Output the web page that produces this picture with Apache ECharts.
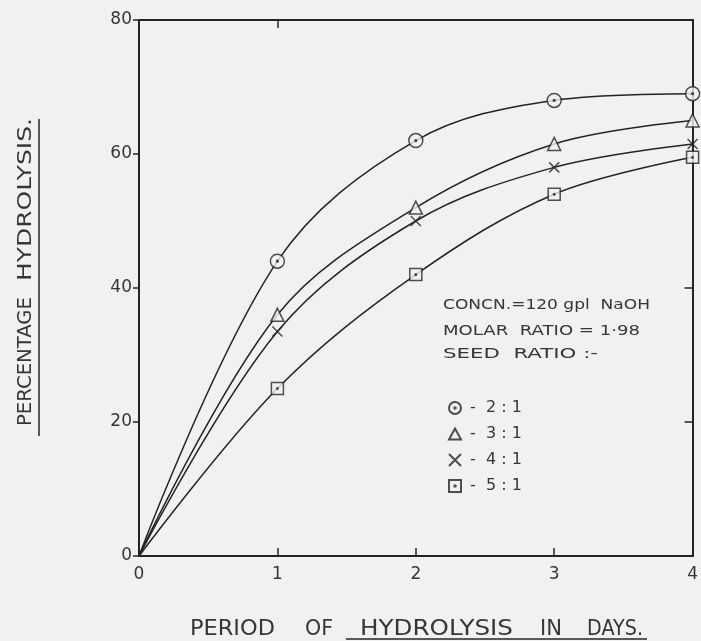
<!DOCTYPE html>
<html>
<head>
<meta charset="utf-8">
<script src="https://cdn.jsdelivr.net/npm/echarts@6/dist/echarts.min.js"></script>
<style>
  html, body { margin: 0; padding: 0; background: #f1f1ef; }
  #chart { width: 701px; height: 641px; }
</style>
</head>
<body>
<div id="chart"></div>
<script>
// Hydrolysis period (days) and percentage hydrolysis for each seed ratio
const days = [0, 1, 2, 3, 4];
const ratio21 = [0, 44, 62, 68, 69];
const ratio31 = [0, 36, 52, 61.5, 65];
const ratio41 = [0, 33.5, 50, 58, 61.5];
const ratio51 = [0, 25, 42, 54, 59.5];

const seriesNames = ['-  2 : 1', '-  3 : 1', '-  4 : 1', '-  5 : 1'];
const yTicks = [0, 20, 40, 60, 80];
const xTitleWords = ['PERIOD', 'OF', 'HYDROLYSIS', 'IN', 'DAYS.'];
const yTitleWords = ['PERCENTAGE', 'HYDROLYSIS.'];
const noteLines = ['CONCN.=120 gpl  NaOH', 'MOLAR  RATIO = 1·98', 'SEED  RATIO :-'];

const ink = '#242424';
const textInk = '#363636';
const paper = '#f1f1ef';
const FONT = '"DejaVu Sans"';

// Marker shapes: dotted circle, open triangle, cross, dotted square
const SYM_CIRCLE_DOT = 'path://M0,-10A10,10,0,1,1,0,10A10,10,0,1,1,0,-10ZM0,-1.3A1.3,1.3,0,1,1,0,1.3A1.3,1.3,0,1,1,0,-1.3Z';
const SYM_SQUARE_DOT = 'path://M-10,-10L10,-10L10,10L-10,10ZM0,-1.3A1.3,1.3,0,1,1,0,1.3A1.3,1.3,0,1,1,0,-1.3Z';
const SYM_TRIANGLE = 'path://M0,-10L10,8L-10,8Z';
const SYM_CROSS = 'path://M-10,-10L10,10M10,-10L-10,10';

const groups = [
  { vals: ratio21, sym: SYM_CIRCLE_DOT, size: 14 },
  { vals: ratio31, sym: SYM_TRIANGLE, size: 13 },
  { vals: ratio41, sym: SYM_CROSS, size: 10 },
  { vals: ratio51, sym: SYM_SQUARE_DOT, size: 12 }
];

const pairs = vals => days.map((d, i) => [d, vals[i]]);

const series = [];
groups.forEach((g, k) => {
  series.push({
    name: 'curve' + k,
    type: 'line',
    smooth: 0.35,
    showSymbol: false,
    data: pairs(g.vals),
    lineStyle: { color: ink, width: 1.5 },
    z: 2,
    silent: true
  });
});
groups.forEach((g, k) => {
  series.push({
    name: seriesNames[k],
    type: 'scatter',
    symbol: g.sym,
    symbolSize: g.size,
    data: pairs(g.vals).slice(1),
    itemStyle: {
      color: g.sym === SYM_CROSS ? 'rgba(0,0,0,0)' : paper,
      borderColor: ink,
      borderWidth: 1.5
    },
    z: 3
  });
});

// Stretch a word horizontally so it spans a given width (lettering is wide-set)
const measureCtx = document.createElement('canvas').getContext('2d');
function fittedText(word, size, width, props) {
  measureCtx.font = size + 'px ' + FONT;
  const w = measureCtx.measureText(word).width;
  return Object.assign({
    type: 'text',
    scaleX: width / w,
    style: {
      text: word, fill: textInk, font: size + 'px ' + FONT,
      textAlign: 'left', textVerticalAlign: 'middle'
    }
  }, props);
}

// x title: word start / end positions along the bottom
const xWordSpans = [[190, 275], [305, 333], [360, 513], [540, 562], [587, 643]];
// y title: word spans measured upward from the bottom
const yWordSpans = [[426, 297], [281, 118]];
// note block: left edge, right edge, centre line
const noteSpans = [[443, 650, 305], [443, 640, 331], [443, 598, 354]];

const graphics = [];
xTitleWords.forEach((w, i) => {
  const [a, b] = xWordSpans[i];
  graphics.push(fittedText(w, 22, b - a, { x: a, y: 629 }));
});
graphics.push({
  type: 'line', shape: { x1: 346, y1: 639, x2: 647, y2: 639 },
  style: { stroke: ink, lineWidth: 1.5 }
});
yTitleWords.forEach((w, i) => {
  const [a, b] = yWordSpans[i];
  graphics.push(fittedText(w, 19, a - b, { x: 26, y: a, rotation: Math.PI / 2 }));
});
graphics.push({
  type: 'line', shape: { x1: 39, y1: 119, x2: 39, y2: 436 },
  style: { stroke: ink, lineWidth: 1.5 }
});
noteLines.forEach((t, i) => {
  const [a, b, y] = noteSpans[i];
  graphics.push(fittedText(t, 14, b - a, { x: a, y: y }));
});

const chart = echarts.init(document.getElementById('chart'));
chart.setOption({
  backgroundColor: paper,
  animation: false,
  grid: { left: 139, right: 6, top: 20, bottom: 85 },
  xAxis: [
    {
      type: 'value', min: 0, max: 4, interval: 1, position: 'bottom',
      axisLine: { onZero: false, lineStyle: { color: ink, width: 2 } },
      axisTick: { inside: true, length: 8, lineStyle: { color: ink, width: 1.5 } },
      axisLabel: { color: textInk, fontSize: 17, margin: 10, fontFamily: 'DejaVu Sans' },
      splitLine: { show: false }
    },
    {
      type: 'value', min: 0, max: 4, interval: 1, position: 'top',
      axisLine: { show: true, onZero: false, lineStyle: { color: ink, width: 2 } },
      axisTick: { show: true, inside: true, length: 8, customValues: [1], lineStyle: { color: ink, width: 1.5 } },
      axisLabel: { show: false },
      splitLine: { show: false }
    }
  ],
  yAxis: [
    {
      type: 'value', min: 0, max: 80, interval: 20, position: 'left',
      axisLine: { show: true, onZero: false, lineStyle: { color: ink, width: 2 } },
      axisTick: { show: true, inside: false, length: 6, lineStyle: { color: ink, width: 1.5 } },
      axisLabel: {
        color: textInk, fontSize: 17, margin: 7, fontFamily: 'DejaVu Sans',
        formatter: v => yTicks.includes(v) ? String(v) : ''
      },
      splitLine: { show: false }
    },
    {
      type: 'value', min: 0, max: 80, interval: 20, position: 'right',
      axisLine: { show: true, onZero: false, lineStyle: { color: ink, width: 2 } },
      axisTick: { show: true, inside: true, length: 8, customValues: [20, 40], lineStyle: { color: ink, width: 1.5 } },
      axisLabel: { show: false },
      splitLine: { show: false }
    }
  ],
  legend: {
    data: seriesNames,
    orient: 'vertical',
    left: 443,
    top: 395,
    itemGap: 10,
    itemWidth: 12,
    itemHeight: 12,
    textStyle: { color: textInk, fontSize: 16, fontFamily: 'DejaVu Sans', padding: [0, 0, 0, 4] }
  },
  graphic: graphics,
  series: series
});
</script>
</body>
</html>
